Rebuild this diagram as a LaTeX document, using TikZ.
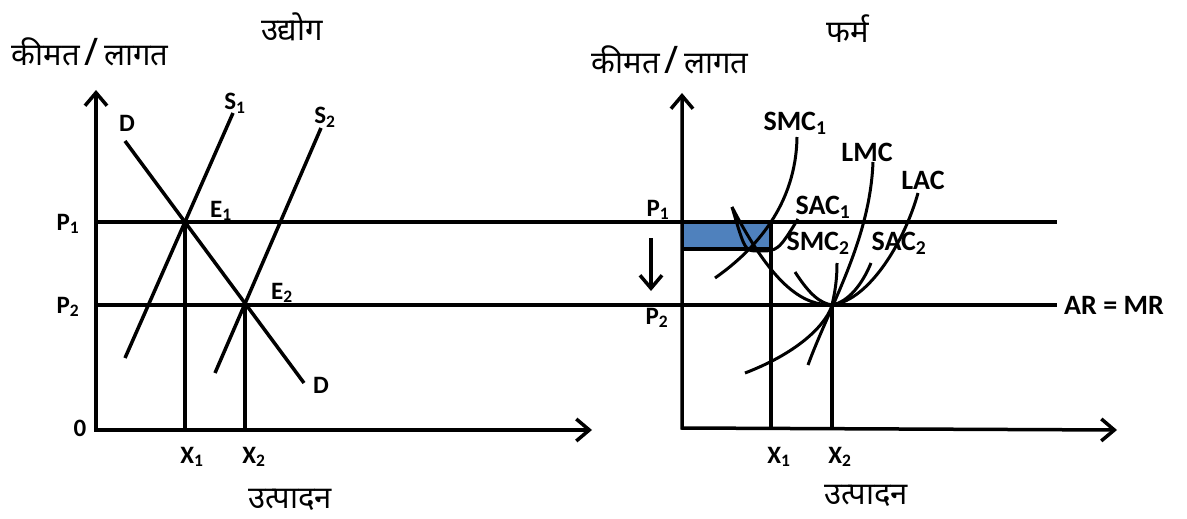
\documentclass[tikz,border=0pt]{standalone}
\usepackage{fontspec}
\setmainfont{Carlito}
\newfontfamily\hindi[Script=Devanagari]{Noto Sans}
\usetikzlibrary{arrows.meta}
\definecolor{profit}{RGB}{79,129,189}
\newcommand{\kimat}{कीमत\,{\fontsize{38}{38}\selectfont/}\,लागत}
\tikzset{
  axis/.style={line width=3.5pt,line join=miter,{Straight Barb[length=13pt,width=22pt]}-{Straight Barb[length=13pt,width=22pt]}},
  ln/.style={line width=3.5pt},
  crv/.style={line width=3pt},
  lab/.style={font=\fontsize{25}{28}\selectfont\bfseries,inner sep=0pt},
  biglab/.style={font=\fontsize{28}{32}\selectfont\bfseries,inner sep=0pt},
  hin/.style={font=\fontsize{31}{36}\selectfont\hindi,inner sep=0pt}
}
\begin{document}
\begin{tikzpicture}[x=1pt,y=-1pt]
  \useasboundingbox[fill=white] (0,0) rectangle (1187,519);
  % udyog
  \coordinate (ytopA) at (96,90);
  \coordinate (oA) at (96,430);
  \coordinate (xendA) at (592,430);
  \coordinate (E1) at (185,222);
  \coordinate (E2) at (245,305);
  \coordinate (Dtop) at (125,141);
  \coordinate (Dbot) at (304,383);
  \coordinate (S1bot) at (125,358);
  \coordinate (S1top) at (233,113);
  \coordinate (S2bot) at (215,373);
  \coordinate (S2top) at (321,128);
  \coordinate (X1A) at (185,430);
  \coordinate (X2A) at (245,430);
  % farm
  \coordinate (ytopB) at (682,93);
  \coordinate (oB) at (682,428);
  \coordinate (xendB) at (1117,430);
  \coordinate (Q1) at (771,222);
  \coordinate (Q2) at (832,305);
  \coordinate (X1B) at (771,428);
  \coordinate (X2B) at (832,429);
  \coordinate (P1end) at (1057,222);
  \coordinate (P2end) at (1057,305);
  \coordinate (P1A) at (96,222);
  \coordinate (P2A) at (96,305);
  \coordinate (arrtop) at (651,238);
  \coordinate (arrbot) at (651,291);

  \fill[profit] (682,222) rectangle (771,249);
  \draw[ln] (682,249) -- (771,249);

  \draw[axis] (ytopA) -- (oA) -- (xendA);
  \draw[axis] (ytopB) -- (oB) -- (xendB);
  \draw[ln] (P1A) -- (P1end);
  \draw[ln] (P2A) -- (P2end);
  \draw[ln] (Dtop) -- (Dbot);
  \draw[ln] (S1bot) -- (S1top);
  \draw[ln] (S2bot) -- (S2top);
  \draw[ln] (E1) -- (X1A);
  \draw[ln] (E2) -- (X2A);
  \draw[ln] (Q1) -- (X1B);
  \draw[ln] (Q2) -- (X2B);
  \draw[ln,-{Straight Barb[length=13pt,width=22pt]}] (arrtop) -- (arrbot);

  \draw[crv] (715,278) .. controls (755,250) and (796,205) .. (797,137);
  \draw[crv] (732,207) .. controls (745,251) .. (758,251) .. controls (778,251) .. (798,219);
  \draw[crv] (732,207) .. controls (775,290) and (805,305) .. (Q2) .. controls (870,300) and (905,240) .. (918,193);
  \draw[crv] (808,365) .. controls (830,305) and (870,240) .. (873,162);
  \draw[crv] (745,373) .. controls (805,350) and (828,320) .. (Q2) .. controls (835,292) and (837,280) .. (837,263);
  \draw[crv] (795,272) .. controls (810,295) and (820,303) .. (Q2) .. controls (848,302) and (862,285) .. (871,263);

  \node[lab] (l0) at (80,428) {0};
  \node[lab] (lP1A) at (68,224) {P\textsubscript{1}};
  \node[lab] (lP2A) at (68,307) {P\textsubscript{2}};
  \node[lab] (lDtop) at (127,123) {D};
  \node[lab] (lDbot) at (321,385) {D};
  \node[lab] (lS1) at (235,103) {S\textsubscript{1}};
  \node[lab] (lS2) at (325,117) {S\textsubscript{2}};
  \node[lab] (lE1) at (221,211) {E\textsubscript{1}};
  \node[lab] (lE2) at (282,293) {E\textsubscript{2}};
  \node[lab] (lX1A) at (192,457) {X\textsubscript{1}};
  \node[lab] (lX2A) at (254,457) {X\textsubscript{2}};
  \node[hin] (udyog) at (292,27) {उद्योग};
  \node[hin] (kimatA) at (90,52) {\kimat};
  \node[hin] (utpadA) at (290,500) {उत्पादन};

  \node[lab] (lP1B) at (658,210) {P\textsubscript{1}};
  \node[lab] (lP2B) at (657,318) {P\textsubscript{2}};
  \node[lab] (lX1B) at (779,457) {X\textsubscript{1}};
  \node[lab] (lX2B) at (840,457) {X\textsubscript{2}};
  \node[biglab,anchor=west] (armr) at (1064,305) {AR = MR};
  \node[biglab] (lSMC1) at (795,123) {SMC\textsubscript{1}};
  \node[biglab] (lLMC) at (867,152) {LMC};
  \node[biglab] (lLAC) at (923,180) {LAC};
  \node[biglab] (lSAC1) at (823,207) {SAC\textsubscript{1}};
  \node[biglab] (lSMC2) at (818,243) {SMC\textsubscript{2}};
  \node[biglab] (lSAC2) at (899,243) {SAC\textsubscript{2}};
  \node[hin] (farm) at (848,29) {फर्म};
  \node[hin] (kimatB) at (670,60) {\kimat};
  \node[hin] (utpadB) at (866,496) {उत्पादन};
\end{tikzpicture}
\end{document}
